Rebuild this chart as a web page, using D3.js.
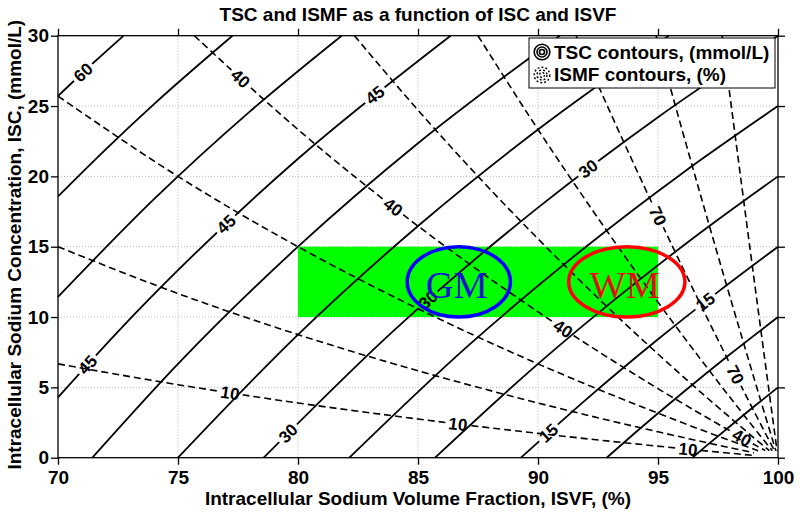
<!DOCTYPE html>
<html>
<head>
<meta charset="utf-8">
<script src="https://cdn.jsdelivr.net/npm/d3@7"></script>
<style>
  body { margin: 0; background: #fff; }
  text { font-family: "Liberation Sans", Arial, Helvetica, sans-serif; }
</style>
</head>
<body>
<div id="chart"></div>
<script>
var xTicks = [70, 75, 80, 85, 90, 95, 100];
var yTicks = [0, 5, 10, 15, 20, 25, 30];

// TSC contours (mmol/L), points are [ISVF %, ISC mmol/L]
var tscLevels = [5, 10, 15, 20, 25, 30, 35, 40, 45, 50, 55, 60];
var tscLines = [
  [[96.43, 0], [97, 0.82], [98, 2.24], [99, 3.64], [100, 5]],
  [[92.86, 0], [94, 1.70], [96, 4.58], [98, 7.35], [100, 10]],
  [[89.29, 0], [92, 4.13], [95, 8.42], [97.5, 11.79], [100, 15]],
  [[85.71, 0], [90, 6.67], [94, 12.34], [97, 16.29], [100, 20]],
  [[82.14, 0], [87, 7.82], [92, 15.0], [96, 20.21], [100, 25]],
  [[78.57, 0], [84, 9.05], [90, 17.78], [95, 24.21], [100, 30]],
  [[75.0, 0], [80, 8.75], [85, 16.47], [90, 23.33], [95.45, 30]],
  [[71.43, 0], [75, 6.67], [80, 15.0], [85, 22.35], [90.91, 30]],
  [[70, 4.29], [72.5, 8.97], [75, 13.33], [80, 21.25], [86.36, 30]],
  [[70, 11.43], [74, 18.38], [78, 24.62], [81.82, 30]],
  [[70, 18.57], [72, 21.94], [74, 25.14], [77.27, 30]],
  [[70, 25.71], [71.5, 28.11], [72.73, 30]]
];

// ISMF contours (%)
var ismfLevels = [10, 20, 30, 40, 50, 60, 70, 80, 90];
var ismfLines = [
  [[70, 6.67], [75, 5.19], [80, 3.89], [85, 2.75], [90, 1.73], [95, 0.82], [98, 0.32], [99, 0.16]],
  [[70, 15.0], [75, 11.67], [80, 8.75], [85, 6.18], [90, 3.89], [95, 1.84], [98, 0.71], [99, 0.35]],
  [[70, 25.71], [75, 20.0], [80, 15.0], [85, 10.59], [90, 6.67], [95, 3.16], [96, 2.5], [98, 1.22], [99.17, 0.5]],
  [[75.68, 30], [80, 23.33], [85, 16.47], [90, 10.37], [95, 4.91], [97, 2.89], [98, 1.91], [99.47, 0.5]],
  [[82.35, 30], [85, 24.71], [87.5, 20.0], [90, 15.56], [92.5, 11.35], [95, 7.37], [97, 4.33], [98, 2.86], [99, 1.41], [99.64, 0.5]],
  [[87.5, 30], [90, 23.33], [92.5, 17.03], [95, 11.05], [97, 6.50], [98, 4.29], [99, 2.12], [99.76, 0.5]],
  [[91.59, 30], [93, 24.59], [95, 17.19], [97, 10.10], [98, 6.67], [99, 3.30], [99.85, 0.5]],
  [[94.92, 30], [96, 23.33], [97, 17.32], [98, 11.43], [99, 5.66], [99.5, 2.81], [99.91, 0.5]],
  [[97.67, 30], [98, 25.71], [98.5, 19.19], [99, 12.73], [99.5, 6.33], [99.96, 0.5]]
];

// inline labels: [level, ISVF, ISC]
var tscLabels = [
  [60, 71.04, 27.4], [45, 83.2, 25.8], [45, 77.0, 16.6], [45, 71.25, 6.6],
  [30, 92.08, 20.55], [30, 85.42, 11.2], [30, 79.58, 1.77],
  [15, 96.96, 11.1], [15, 90.42, 1.77]
];
var ismfLabels = [
  [40, 77.58, 26.9], [40, 83.96, 17.8], [40, 91.04, 9.15], [40, 98.5, 1.42],
  [70, 95.0, 17.2], [70, 98.2, 5.9],
  [10, 77.17, 4.6], [10, 86.67, 2.39], [10, 96.25, 0.6]
];

var boxIsvf = [80, 95];
var boxIsc = [10, 15];

var tissues = ["GM", "WM"];
var tissueIsvf = [86.7, 93.7];
var tissueIsvfHalf = [2.15, 2.42];
var tissueIsc = [12.5, 12.5];
var tissueIscHalf = [2.5, 2.5];
var tissueColors = ["#0000ff", "#ff0000"];
var tissueTextColors = ["#1414d2", "#e01010"];

var legendNames = ["TSC contours, (mmol/L)", "ISMF contours, (%)"];

var svgWidth = 800;
var svgHeight = 513;
var margin = { top: 35.7, right: 22, bottom: 55.3, left: 58 };
var width = svgWidth - margin.left - margin.right;
var height = svgHeight - margin.top - margin.bottom;

var svg = d3.select("#chart").append("svg")
  .attr("width", svgWidth)
  .attr("height", svgHeight);

var defs = svg.append("defs");

var chart = svg.append("g")
  .attr("transform", `translate(${margin.left}, ${margin.top})`);

var x = d3.scaleLinear().domain([70, 100]).range([0, width]);
var y = d3.scaleLinear().domain([0, 30]).range([height, 0]);

// grid
chart.append("g").selectAll("line")
  .data(xTicks.slice(1, -1))
  .enter().append("line")
  .attr("x1", d => x(d)).attr("x2", d => x(d))
  .attr("y1", 0).attr("y2", height)
  .attr("stroke", "#b4b4b4").attr("stroke-dasharray", "1,2");
chart.append("g").selectAll("line")
  .data(yTicks.slice(1, -1))
  .enter().append("line")
  .attr("y1", d => y(d)).attr("y2", d => y(d))
  .attr("x1", 0).attr("x2", width)
  .attr("stroke", "#b4b4b4").attr("stroke-dasharray", "1,2");

// green target region
chart.append("rect")
  .attr("x", x(boxIsvf[0]))
  .attr("y", y(boxIsc[1]))
  .attr("width", x(boxIsvf[1]) - x(boxIsvf[0]))
  .attr("height", y(boxIsc[0]) - y(boxIsc[1]))
  .attr("fill", "#00ff00");

var line = d3.line()
  .x(d => x(d[0]))
  .y(d => y(d[1]))
  .curve(d3.curveMonotoneX);

var tscPaths = chart.append("g").selectAll("path")
  .data(tscLines)
  .enter().append("path")
  .attr("d", line)
  .attr("fill", "none")
  .attr("stroke", "#000")
  .attr("stroke-width", 1.8);

var ismfPaths = chart.append("g").selectAll("path")
  .data(ismfLines)
  .enter().append("path")
  .attr("d", line)
  .attr("fill", "none")
  .attr("stroke", "#000")
  .attr("stroke-width", 1.6)
  .attr("stroke-dasharray", "7,4");

var labelGroup = chart.append("g");

function addLabels(labels, levels, paths, name) {
  var nodes = paths.nodes();
  var gaps = nodes.map(() => []);
  labels.forEach(function(lb) {
    var idx = levels.indexOf(lb[0]);
    var node = nodes[idx];
    var len = node.getTotalLength();
    var px = x(lb[1]), py = y(lb[2]);
    var best = 0, bestD = Infinity;
    for (var l = 0; l <= len; l += 0.5) {
      var p = node.getPointAtLength(l);
      var dd = (p.x - px) * (p.x - px) + (p.y - py) * (p.y - py);
      if (dd < bestD) { bestD = dd; best = l; }
    }
    var p0 = node.getPointAtLength(Math.max(0, best - 5));
    var p1 = node.getPointAtLength(Math.min(len, best + 5));
    var ang = Math.atan2(p1.y - p0.y, p1.x - p0.x) * 180 / Math.PI;
    if (ang > 90) ang -= 180;
    if (ang < -90) ang += 180;
    var c = node.getPointAtLength(best);

    var t = labelGroup.append("text")
      .attr("transform", `translate(${c.x}, ${c.y}) rotate(${ang})`)
      .attr("text-anchor", "middle")
      .attr("dy", "0.36em")
      .attr("font-size", "17px")
      .attr("font-weight", "bold")
      .text(lb[0]);
    var w = t.node().getComputedTextLength();
    gaps[idx].push({ x: c.x, y: c.y, a: ang, w: w + 6 });
  });

  // break each line where its own labels sit
  nodes.forEach(function(node, i) {
    if (!gaps[i].length) return;
    var id = `gap-${name}-${i}`;
    var m = defs.append("mask")
      .attr("id", id)
      .attr("maskUnits", "userSpaceOnUse")
      .attr("x", -100).attr("y", -100)
      .attr("width", svgWidth + 200).attr("height", svgHeight + 200);
    m.append("rect")
      .attr("x", -100).attr("y", -100)
      .attr("width", svgWidth + 200).attr("height", svgHeight + 200)
      .attr("fill", "#fff");
    gaps[i].forEach(function(g) {
      m.append("rect")
        .attr("x", -g.w / 2).attr("y", -7)
        .attr("width", g.w).attr("height", 14)
        .attr("transform", `translate(${g.x}, ${g.y}) rotate(${g.a})`)
        .attr("fill", "#000");
    });
    d3.select(node).attr("mask", `url(#${id})`);
  });
}

addLabels(tscLabels, tscLevels, tscPaths, "tsc");
addLabels(ismfLabels, ismfLevels, ismfPaths, "ismf");

// tissue ellipses
tissues.forEach(function(name, i) {
  chart.append("ellipse")
    .attr("cx", x(tissueIsvf[i]))
    .attr("cy", y(tissueIsc[i]))
    .attr("rx", x(tissueIsvf[i] + tissueIsvfHalf[i]) - x(tissueIsvf[i]))
    .attr("ry", y(tissueIsc[i]) - y(tissueIsc[i] + tissueIscHalf[i]))
    .attr("fill", "none")
    .attr("stroke", tissueColors[i])
    .attr("stroke-width", 3.5);
  chart.append("text")
    .attr("x", x(tissueIsvf[i]) - 2)
    .attr("y", y(tissueIsc[i]) + 16.5)
    .attr("text-anchor", "middle")
    .style("font-family", "'Liberation Serif', 'Times New Roman', serif")
    .attr("font-size", "38.5px")
    .attr("fill", tissueTextColors[i])
    .text(name);
});

// axes
var tickLen = 7;
var xAxis = chart.append("g")
  .attr("transform", `translate(0, ${height})`)
  .call(d3.axisBottom(x).tickValues(xTicks).tickSize(tickLen).tickSizeOuter(0).tickPadding(6));
var yAxis = chart.append("g")
  .call(d3.axisLeft(y).tickValues(yTicks).tickSize(tickLen).tickSizeOuter(0).tickPadding(2));
var xTop = chart.append("g")
  .call(d3.axisTop(x).tickValues(xTicks).tickSize(tickLen).tickSizeOuter(0).tickFormat(""));
var yRight = chart.append("g")
  .attr("transform", `translate(${width}, 0)`)
  .call(d3.axisRight(y).tickValues(yTicks).tickSize(tickLen).tickSizeOuter(0).tickFormat(""));

[xAxis, yAxis, xTop, yRight].forEach(function(a) {
  a.select(".domain").remove();
  a.selectAll("line").attr("stroke", "#000").attr("stroke-width", 1.3);
  a.selectAll("text")
    .attr("fill", "#000")
    .attr("font-size", "19px")
    .attr("font-weight", "bold")
    .style("font-family", "'Liberation Sans', Arial, sans-serif");
});

chart.append("rect")
  .attr("width", width)
  .attr("height", height)
  .attr("fill", "none")
  .attr("stroke", "#000")
  .attr("stroke-width", 1.3);

// titles
svg.append("text")
  .attr("x", margin.left + width / 2)
  .attr("y", 21)
  .attr("text-anchor", "middle")
  .attr("font-size", "19px")
  .attr("font-weight", "bold")
  .text("TSC and ISMF as a function of ISC and ISVF");

svg.append("text")
  .attr("x", margin.left + width / 2)
  .attr("y", 505)
  .attr("text-anchor", "middle")
  .attr("font-size", "19px")
  .attr("font-weight", "bold")
  .text("Intracellular Sodium Volume Fraction, ISVF, (%)");

svg.append("text")
  .attr("transform", `translate(21, ${margin.top + height / 2 - 2}) rotate(-90)`)
  .attr("text-anchor", "middle")
  .attr("font-size", "19px")
  .attr("font-weight", "bold")
  .text("Intracellular Sodium Concentration, ISC, (mmol/L)");

// legend
var legend = svg.append("g").attr("transform", "translate(529, 38)");
legend.append("rect")
  .attr("width", 246)
  .attr("height", 50)
  .attr("fill", "#fff")
  .attr("stroke", "#000")
  .attr("stroke-width", 1);

var icon1 = legend.append("g").attr("transform", "translate(13, 14)");
[2.5, 5, 7.8].forEach(function(r) {
  icon1.append("circle").attr("r", r).attr("fill", "none")
    .attr("stroke", "#000").attr("stroke-width", 1.6);
});
var icon2 = legend.append("g").attr("transform", "translate(13, 37)");
[2.5, 5, 7.8].forEach(function(r) {
  icon2.append("circle").attr("r", r).attr("fill", "none")
    .attr("stroke", "#000").attr("stroke-width", 1.4)
    .attr("stroke-dasharray", "2,2");
});

legend.selectAll(".legText")
  .data(legendNames)
  .enter().append("text")
  .attr("class", "legText")
  .attr("x", 25)
  .attr("y", (d, i) => 21 + i * 22)
  .attr("font-size", "19px")
  .attr("font-weight", "bold")
  .text(d => d);
</script>
</body>
</html>
